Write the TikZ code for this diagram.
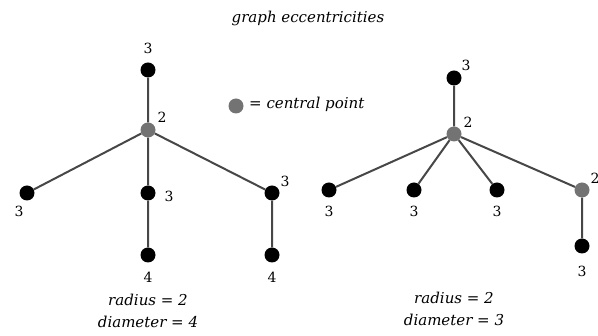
\documentclass[tikz,border=0pt]{standalone}
\usepackage{fontspec}
\setmainfont{DejaVu Serif}
\begin{document}
\begin{tikzpicture}[x=1pt,y=-1pt,
  vtx/.style={circle,fill=black,inner sep=0pt,minimum size=15pt},
  cvtx/.style={circle,fill=black!55,inner sep=0pt,minimum size=15pt},
  edge/.style={draw=black!72,line width=2pt},
  lbl/.style={font=\fontsize{14}{16}\selectfont,inner sep=0pt},
  txt/.style={font=\fontsize{15}{17}\selectfont\itshape,inner sep=0pt}]
\useasboundingbox (0,0) rectangle (598,336);
\node[txt] (title) at (308,18) {graph eccentricities};
% legend
\node[cvtx] (leg) at (236,106) {};
\node[txt,anchor=west] (legtxt) at (249,104) {= central point};
% left tree
\node[vtx] (a1) at (148,70) {};
\node[cvtx] (a2) at (148,130) {};
\node[vtx] (a3) at (27,193) {};
\node[vtx] (a4) at (148,193) {};
\node[vtx] (a5) at (148,255) {};
\node[vtx] (a6) at (272,193) {};
\node[vtx] (a7) at (272,255) {};
\draw[edge] (a1) -- (a2) (a2) -- (a3) (a2) -- (a4) (a4) -- (a5) (a2) -- (a6) (a6) -- (a7);
\node[lbl] (la1) at (148,48) {3};
\node[lbl] (la2) at (162,117) {2};
\node[lbl] (la3) at (19,211) {3};
\node[lbl] (la4) at (169,196) {3};
\node[lbl] (la6) at (285,181) {3};
\node[lbl] (la5) at (148,277) {4};
\node[lbl] (la7) at (272,277) {4};
\node[txt] (ra) at (148,300) {radius = 2};
\node[txt] (da) at (148,322) {diameter = 4};
% right tree
\node[vtx] (b1) at (454,78) {};
\node[cvtx] (b2) at (454,134) {};
\node[vtx] (b3) at (329,190) {};
\node[vtx] (b4) at (414,190) {};
\node[vtx] (b5) at (497,190) {};
\node[cvtx] (b6) at (582,190) {};
\node[vtx] (b7) at (582,246) {};
\draw[edge] (b1) -- (b2) (b2) -- (b3) (b2) -- (b4) (b2) -- (b5) (b2) -- (b6) (b6) -- (b7);
\node[lbl] (lb1) at (466,65) {3};
\node[lbl] (lb2) at (468,122) {2};
\node[lbl] (lb3) at (329,211) {3};
\node[lbl] (lb4) at (414,211) {3};
\node[lbl] (lb5) at (497,211) {3};
\node[lbl] (lb6) at (595,178) {2};
\node[lbl] (lb7) at (582,271) {3};
\node[txt] (rb) at (454,298) {radius = 2};
\node[txt] (db) at (454,320) {diameter = 3};
\end{tikzpicture}
\end{document}
